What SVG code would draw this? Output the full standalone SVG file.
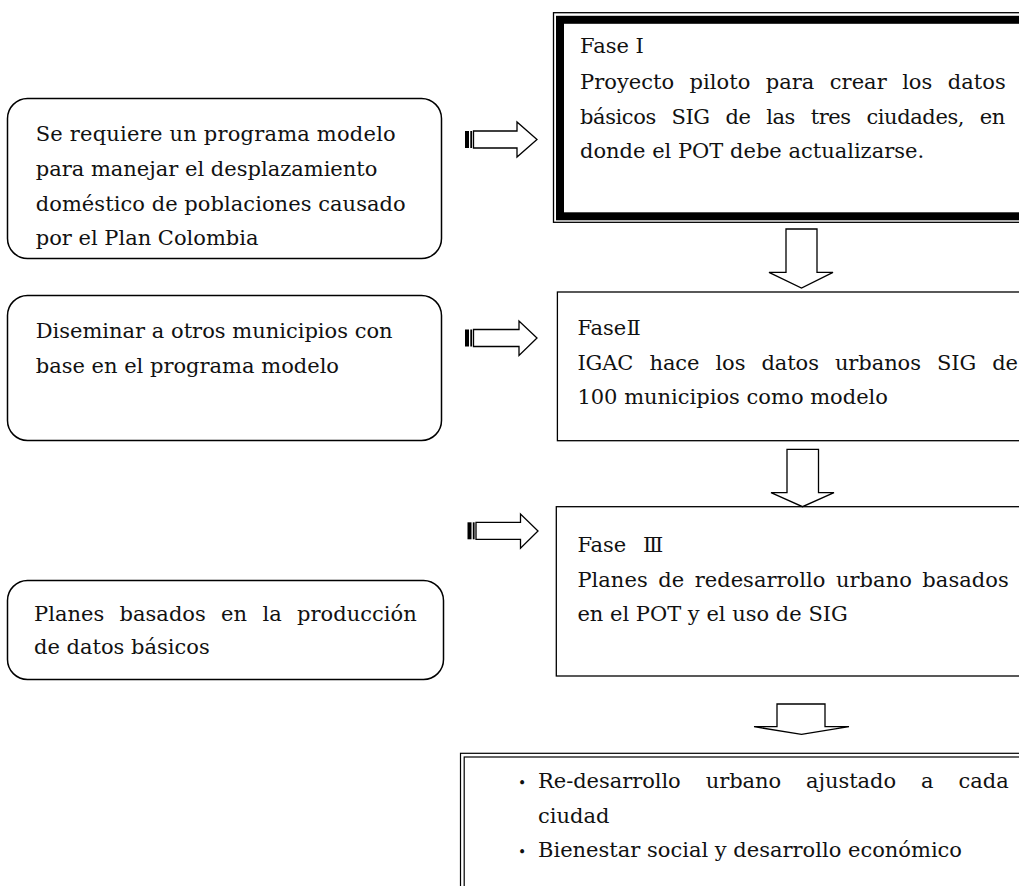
<svg xmlns="http://www.w3.org/2000/svg" width="1019" height="886" viewBox="0 0 1019 886">
<style>
.t{font-family:"DejaVu Serif","Noto Sans CJK JP",serif;font-size:21px;fill:#111}
.rbox{fill:#fff;stroke:#000;stroke-width:1.5}
.box{fill:#fff;stroke:#000;stroke-width:1.3}
.arr{fill:#fff;stroke:#000;stroke-width:1.3;stroke-linejoin:miter}
.stripe{fill:#000}
</style>
<rect width="1019" height="886" fill="#fff"/>
<g id="left1">
<rect class="rbox" x="7.5" y="98.5" width="434" height="160" rx="20"/>
<text class="t" x="35.7" y="141" textLength="360" lengthAdjust="spacing">Se requiere un programa modelo</text>
<text class="t" x="35.7" y="176">para manejar el desplazamiento</text>
<text class="t" x="35.7" y="210.5" textLength="370" lengthAdjust="spacing">doméstico de poblaciones causado</text>
<text class="t" x="35.7" y="245">por el Plan Colombia</text>
</g>
<g id="left2">
<rect class="rbox" x="7.5" y="295.5" width="434" height="145" rx="20"/>
<text class="t" x="35.7" y="338">Diseminar a otros municipios con</text>
<text class="t" x="35.7" y="372.5">base en el programa modelo</text>
</g>
<g id="left3">
<rect class="rbox" x="7.5" y="580.5" width="436" height="99" rx="20"/>
<text class="t" x="34" y="621" word-spacing="8.6" textLength="382.7" lengthAdjust="spacing">Planes basados en la producción</text>
<text class="t" x="34" y="654">de datos básicos</text>
</g>
<g id="fase1">
<rect x="553.5" y="12.7" width="520" height="209.6" fill="#fff" stroke="#000" stroke-width="1.3"/>
<rect x="560" y="19.8" width="520" height="196.5" fill="none" stroke="#000" stroke-width="8"/>
<text class="t" x="580" y="53.3">Fase I</text>
<text class="t" x="580" y="89" word-spacing="8.7" textLength="425.7" lengthAdjust="spacing">Proyecto piloto para crear los datos</text>
<text class="t" x="580" y="123.5" word-spacing="9.4" textLength="425.3" lengthAdjust="spacing">básicos SIG de las tres ciudades, en</text>
<text class="t" x="580" y="158">donde el POT debe actualizarse.</text>
</g>
<g id="fase2">
<rect class="box" x="557.4" y="292" width="520" height="148.7"/>
<text class="t" x="577.4" y="335">Fase<tspan x="626.5">Ⅱ</tspan></text>
<text class="t" x="577.4" y="369.5" word-spacing="9.5" textLength="440.6" lengthAdjust="spacing">IGAC hace los datos urbanos SIG de</text>
<text class="t" x="577.4" y="404">100 municipios como modelo</text>
</g>
<g id="fase3">
<rect class="box" x="556.3" y="506.7" width="520" height="169.3"/>
<text class="t" x="577.4" y="552">Fase<tspan x="643">Ⅲ</tspan></text>
<text class="t" x="577.4" y="586.5" word-spacing="3.8" textLength="431.3" lengthAdjust="spacing">Planes de redesarrollo urbano basados</text>
<text class="t" x="577.4" y="621">en el POT y el uso de SIG</text>
</g>
<g id="result">
<rect x="460.5" y="753.3" width="600" height="200" fill="#fff" stroke="#000" stroke-width="1.2"/>
<rect x="464.2" y="757" width="600" height="200" fill="none" stroke="#000" stroke-width="1.2"/>
<text class="t" x="518" y="788" style="font-size:14px">•</text>
<text class="t" x="538" y="788" word-spacing="18.4" textLength="470.7" lengthAdjust="spacing">Re-desarrollo urbano ajustado a cada</text>
<text class="t" x="538" y="822.5">ciudad</text>
<text class="t" x="518" y="857" style="font-size:14px">•</text>
<text class="t" x="538" y="857">Bienestar social y desarrollo económico</text>
</g>
<g id="connectors">
<rect class="stripe" x="465" y="131" width="4" height="17"/>
<rect class="stripe" x="470.3" y="131" width="1.8" height="17"/>
<polygon class="arr" points="473.5,131 517,131 517,122 537,139.5 517,157 517,148 473.5,148"/>
<rect class="stripe" x="465" y="329.5" width="4" height="17"/>
<rect class="stripe" x="470.3" y="329.5" width="1.8" height="17"/>
<polygon class="arr" points="473.5,329.5 519,329.5 519,321 537,338 519,355.5 519,346.5 473.5,346.5"/>
<rect class="stripe" x="467.5" y="522.3" width="4" height="17"/>
<rect class="stripe" x="472.8" y="522.3" width="1.8" height="17"/>
<polygon class="arr" points="476,522.3 520.5,522.3 520.5,514 538,531 520.5,548.3 520.5,539.3 476,539.3"/>
<polygon class="arr" points="786,229 817,229 817,272.3 833,272.3 801.5,288 769,272.3 786,272.3"/>
<polygon class="arr" points="787,449.3 818.5,449.3 818.5,492.7 834,492.7 802.5,506.7 771,492.7 787,492.7"/>
<polygon class="arr" points="777,704 825,704 825,726.7 849,726.7 801.5,734.3 754,726.7 777,726.7"/>
</g>
</svg>
